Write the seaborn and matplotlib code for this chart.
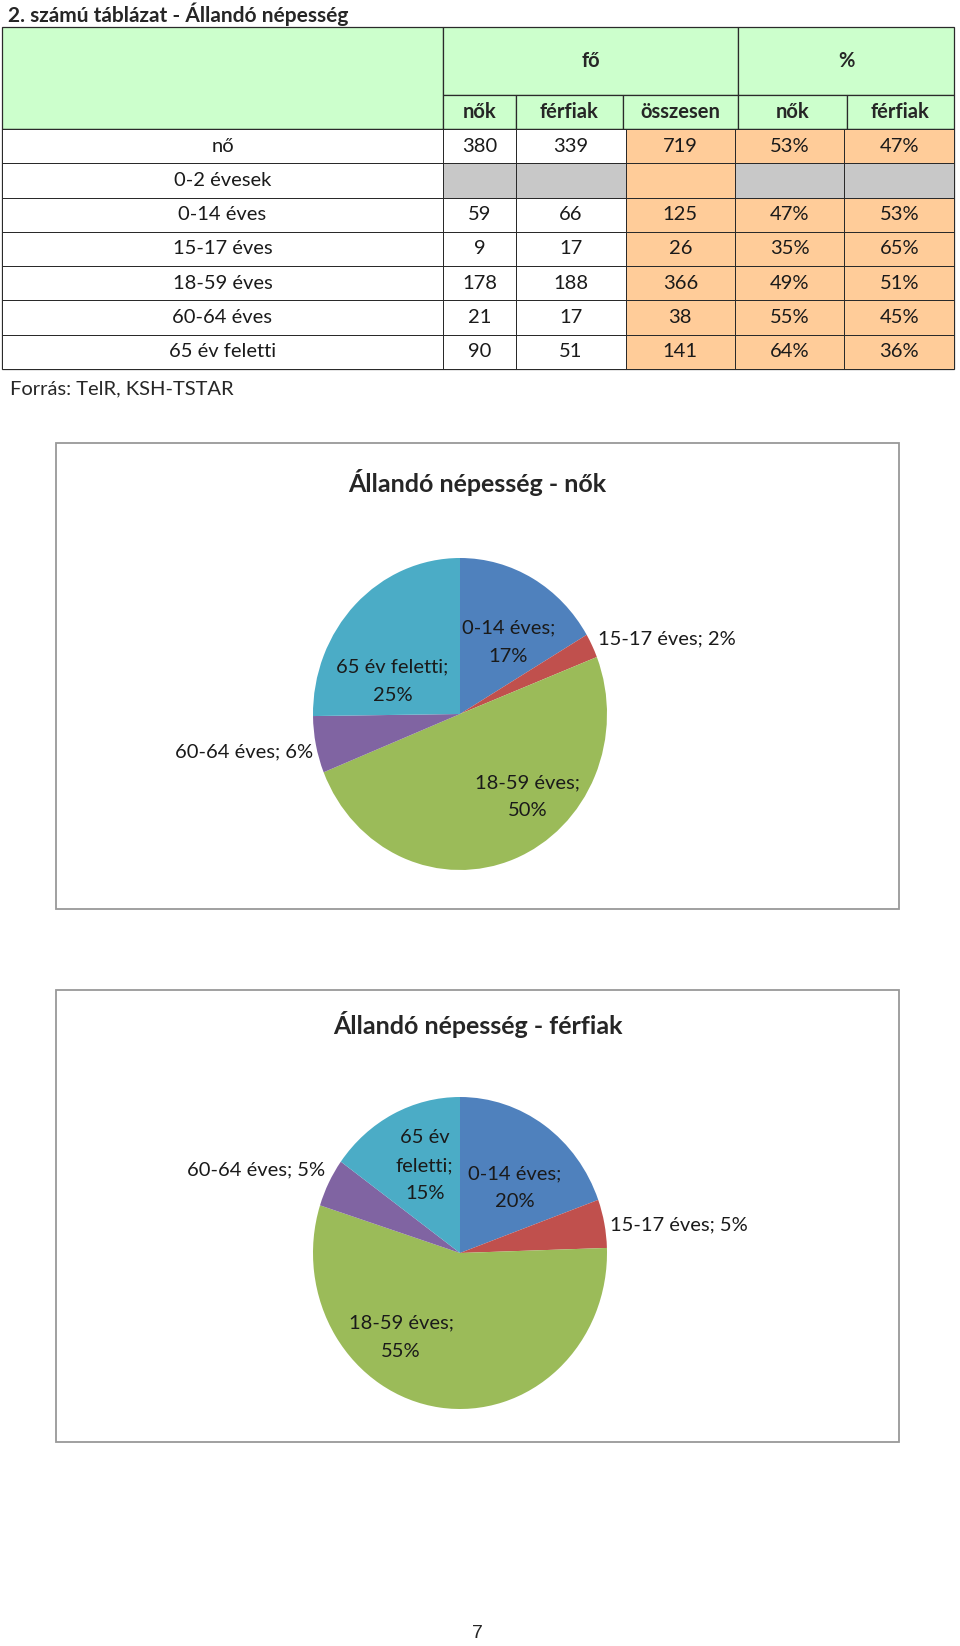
import numpy as np
import matplotlib
matplotlib.use('Agg')
import matplotlib.pyplot as plt
from matplotlib.colors import ListedColormap
from matplotlib.patches import Rectangle
import seaborn as sns

# --- adatok ---
korcsoportok = ['nő', '0-2 évesek', '0-14 éves', '15-17 éves', '18-59 éves',
                '60-64 éves', '65 év feletti']
nok = [380, None, 59, 9, 178, 21, 90]
ferfiak = [339, None, 66, 17, 188, 17, 51]
osszesen = [719, None, 125, 26, 366, 38, 141]
nok_szazalek = [53, None, 47, 35, 49, 55, 64]
ferfiak_szazalek = [47, None, 53, 65, 51, 45, 36]

pie_kategoriak = ['0-14 éves', '15-17 éves', '18-59 éves', '60-64 éves', '65 év feletti']
nok_pie = nok[2:]
ferfiak_pie = ferfiak[2:]
nok_pie_cimke = [17, 2, 50, 6, 25]
ferfiak_pie_cimke = [20, 5, 55, 5, 15]

fejlec_felso = ['fő', '%']
fejlec_also = ['nők', 'férfiak', 'összesen', 'nők', 'férfiak']

# --- stílus ---
sns.set_theme(style='white')
plt.rcParams['font.family'] = ['Lato', 'DejaVu Sans']

W, H = 960, 1646
ZOLD = '#CCFFCC'
NARANCS = '#FFCC99'
SZURKE = '#C8C8C8'
VONAL = '#2a2a2a'
szinek = ['#4F81BD', '#C0504D', '#9BBB59', '#8064A2', '#4BACC6']
cella_cmap = ListedColormap(['white', NARANCS, SZURKE])

fig = plt.figure(figsize=(W / 100, H / 100), dpi=100)


def px_rect(x0, y0, x1, y1):
    return [x0 / W, 1 - y1 / H, (x1 - x0) / W, (y1 - y0) / H]


ax_page = fig.add_axes([0, 0, 1, 1], zorder=0)
ax_page.set_xlim(0, W)
ax_page.set_ylim(H, 0)
ax_page.axis('off')

# táblázat geometria
col_x = [2, 443, 516, 623, 738, 847, 954]
y_top, y_mid, y_head = 27, 95, 129
y_bottom = 369
FS = 14.5
LW = 0.9

ax_page.text(8, 14, '2. számú táblázat - Állandó népesség', fontsize=15,
             fontweight='bold', va='center', ha='left')

# fejléc
def cella(x0, y0, x1, y1, fc):
    ax_page.add_patch(Rectangle((x0, y0), x1 - x0, y1 - y0, facecolor=fc,
                                edgecolor=VONAL, lw=LW))

cella(col_x[0], y_top, col_x[1], y_head, ZOLD)
cella(col_x[1], y_top, col_x[4], y_mid, ZOLD)
cella(col_x[4], y_top, col_x[6], y_mid, ZOLD)
ax_page.text((col_x[1] + col_x[4]) / 2, (y_top + y_mid) / 2, fejlec_felso[0],
             fontsize=FS, fontweight='bold', ha='center', va='center')
ax_page.text((col_x[4] + col_x[6]) / 2, (y_top + y_mid) / 2, fejlec_felso[1],
             fontsize=FS, fontweight='bold', ha='center', va='center')
for i, lab in enumerate(fejlec_also):
    cella(col_x[i + 1], y_mid, col_x[i + 2], y_head, ZOLD)
    ax_page.text((col_x[i + 1] + col_x[i + 2]) / 2, (y_mid + y_head) / 2, lab,
                 fontsize=FS, fontweight='bold', ha='center', va='center')

# táblázat törzse heatmap-ekkel
def fmt(v, pct=False):
    if v is None:
        return ''
    return f'{v}%' if pct else f'{v}'

n = len(korcsoportok)
ures = [v is None for v in nok]
hm_kw = dict(cmap=cella_cmap, vmin=-0.5, vmax=2.5, cbar=False, fmt='',
             linewidths=0.7, linecolor=VONAL, xticklabels=False, yticklabels=False,
             annot_kws={'fontsize': FS, 'color': '#1a1a1a'})

# első oszlop: címkék
lab_kod = np.zeros((n, 1))
lab_annot = np.array(korcsoportok).reshape(n, 1)
ax_lab = fig.add_axes(px_rect(col_x[0], y_head, col_x[1], y_bottom))
sns.heatmap(lab_kod, ax=ax_lab, annot=lab_annot, **hm_kw)

# nők oszlop
nok_kod = np.array([[2 if u else 0] for u in ures])
nok_annot = np.array([[fmt(v)] for v in nok])
ax_nok = fig.add_axes(px_rect(col_x[1], y_head, col_x[2], y_bottom))
sns.heatmap(nok_kod, ax=ax_nok, annot=nok_annot, **hm_kw)

# többi oszlop
tobbi_kod = np.array([[2 if u else 0, 1, 2 if u else 1, 2 if u else 1] for u in ures])
tobbi_annot = np.array([[fmt(ferfiak[i]), fmt(osszesen[i]),
                         fmt(nok_szazalek[i], True), fmt(ferfiak_szazalek[i], True)]
                        for i in range(n)])
ax_tobbi = fig.add_axes(px_rect(col_x[2], y_head, col_x[6], y_bottom))
sns.heatmap(tobbi_kod, ax=ax_tobbi, annot=tobbi_annot, **hm_kw)

ax_page.add_patch(Rectangle((col_x[0], y_head), col_x[6] - col_x[0], y_bottom - y_head,
                            facecolor='none', edgecolor=VONAL, lw=LW, zorder=5))

ax_page.text(10, 389, 'Forrás: TelR, KSH-TSTAR', fontsize=FS, va='center', ha='left')


# --- kördiagramok ---
def kordiagram(ertekek, cimkek, keret, kozep, cim, cim_y, cimke_pos):
    x0, y0, x1, y1 = keret
    ax_page.add_patch(Rectangle((x0, y0), x1 - x0, y1 - y0, facecolor='white',
                                edgecolor='#999999', lw=1.3))
    ax_page.text((x0 + x1) / 2, cim_y, cim, fontsize=18, fontweight='bold',
                 ha='center', va='center')
    cx, cy = kozep
    rx, ry = 147, 156
    ax = fig.add_axes(px_rect(cx - rx, cy - ry, cx + rx, cy + ry), zorder=2)
    ax.pie(ertekek, colors=szinek, startangle=90, counterclock=False,
           wedgeprops={'linewidth': 0})
    ax.set_aspect('auto')
    ax.set_xlim(-1, 1)
    ax.set_ylim(-1, 1)
    ax.axis('off')
    for kat, p, (tx, ty, ha) in zip(pie_kategoriak, cimkek, cimke_pos):
        ax.text(tx, ty, f'{kat}; {p}%' if ha != 'center' else f'{kat};\n{p}%',
                fontsize=14.5, ha=ha, va='center', color='#1a1a1a',
                linespacing=1.8, clip_on=False)
    return ax


nok_cimke_pos = [(0.33, 0.46, 'center'), (0.94, 0.48, 'left'),
                 (0.46, -0.53, 'center'), (-1.0, -0.24, 'right'),
                 (-0.46, 0.21, 'center')]
ax_n = kordiagram(nok_pie, nok_pie_cimke, (56, 443, 899, 909), (460, 714),
                  'Állandó népesség - nők', 482, nok_cimke_pos)

ferfi_cimke_pos = [(0.37, 0.42, 'center'), (1.02, 0.18, 'left'),
                   (-0.40, -0.54, 'center'), (-0.92, 0.53, 'right'),
                   (-0.24, 0.56, 'center')]
ax_f = kordiagram(ferfiak_pie, ferfiak_pie_cimke, (56, 990, 899, 1442), (460, 1253),
                  'Állandó népesség - férfiak', 1025, ferfi_cimke_pos)
# a "65 év feletti" címke a férfiaknál három sorban
ax_f.texts[-1].set_text('65 év\nfeletti;\n15%')

ax_page.text(477, 1634, '7', fontsize=14, ha='center', va='center',
             family=['Liberation Sans', 'DejaVu Sans'])

fig.savefig('out.png', dpi=100)
